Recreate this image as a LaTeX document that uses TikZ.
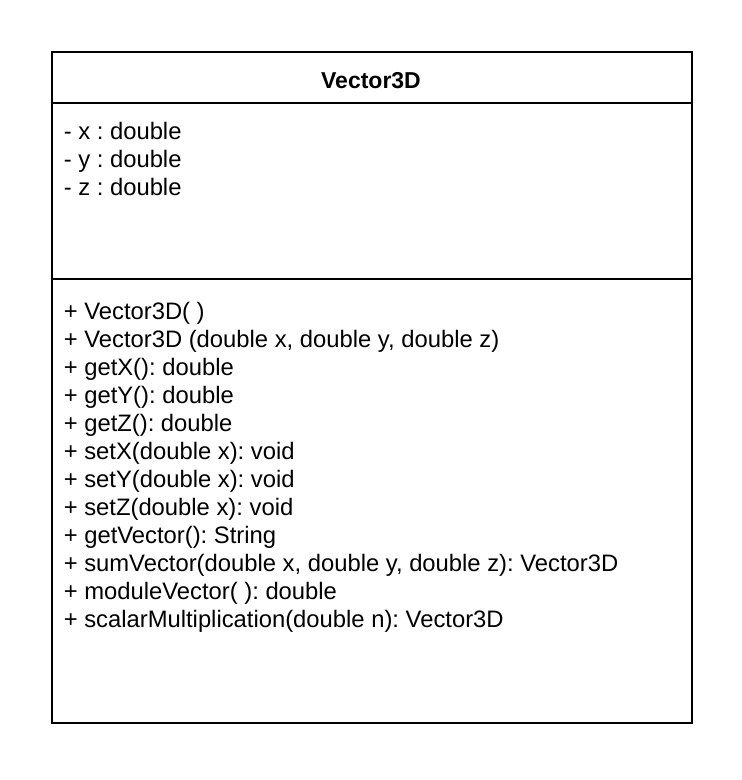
\documentclass[tikz,border=0pt]{standalone}
\usepackage{fontspec}
\setmainfont{Liberation Sans}
\frenchspacing
\usetikzlibrary{positioning}
\tikzstyle{member} = [anchor=base west, inner sep=0pt, font=\fontsize{23.8}{28}\selectfont]
\tikzstyle{classname} = [anchor=base, inner sep=0pt, font=\fontsize{23}{28}\selectfont\bfseries]

\begin{document}
\begin{tikzpicture}[x=1pt,y=-1pt,line width=1.6pt]
    \useasboundingbox (0,0) rectangle (742,780);

        % class box and its compartments
        \node[draw,rectangle,inner sep=0pt,minimum width=640pt,minimum height=671pt,anchor=north west] (Class) at (51,51) {};
        \coordinate (TitleL) at (51,103);
        \coordinate (TitleR) at (691,103);
        \coordinate (AttrL) at (51,279);
        \coordinate (AttrR) at (691,279);
        \draw (TitleL) -- (TitleR);
        \draw (AttrL) -- (AttrR);

        \node[classname] (Name) at (371,88) {Vector3D};

        % attributes
        \node[member] (AttX) at (63,139) {- x : double};
        \node[member] (AttY) at (63,167) {- y : double};
        \node[member] (AttZ) at (63,195) {- z : double};

        % operations
        \foreach \op [count=\i from 0] in {%
            {+ Vector3D( )},
            {+ Vector3D (double x, double y, double z)},
            {+ getX(): double},
            {+ getY(): double},
            {+ getZ(): double},
            {+ setX(double x): void},
            {+ setY(double x): void},
            {+ setZ(double x): void},
            {+ getVector(): String},
            {+ sumVector(double x, double y, double z): Vector3D},
            {+ moduleVector( ): double},
            {+ scalarMultiplication(double n): Vector3D}}
            \node[member] (Op\i) at (63,319+28*\i) {\op};
\end{tikzpicture}
\end{document}
